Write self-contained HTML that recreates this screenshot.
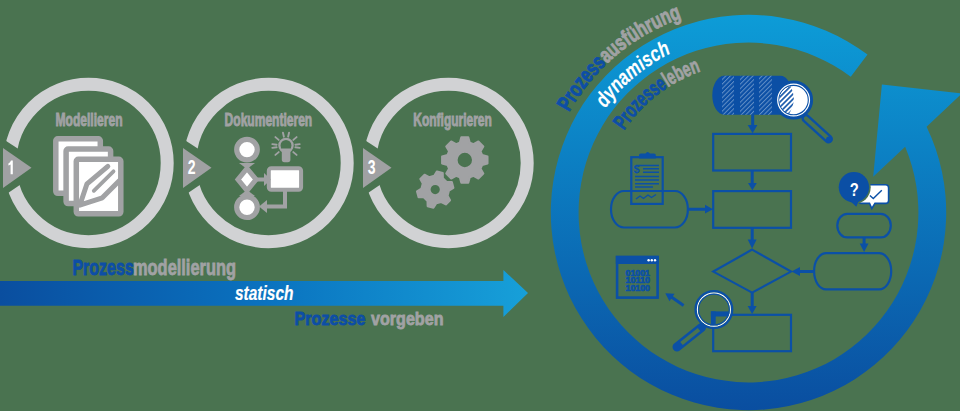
<!DOCTYPE html>
<html><head><meta charset="utf-8">
<style>
html,body{margin:0;padding:0;width:960px;height:411px;overflow:hidden;background:#4a7350;}
svg{display:block;}
text{font-family:"Liberation Sans",sans-serif;}
</style></head>
<body>
<svg width="960" height="411" viewBox="0 0 960 411">
<defs>
  <linearGradient id="band" gradientUnits="userSpaceOnUse" x1="0" y1="0" x2="528" y2="0">
    <stop offset="0" stop-color="#0a4e9f"/>
    <stop offset="0.5" stop-color="#0a72bf"/>
    <stop offset="1" stop-color="#17a0d9"/>
  </linearGradient>
  <linearGradient id="ring" gradientUnits="userSpaceOnUse" x1="0" y1="15" x2="0" y2="410">
    <stop offset="0" stop-color="#0d9cd7"/>
    <stop offset="1" stop-color="#0a4ea0"/>
  </linearGradient>
  <mask id="m1" maskUnits="userSpaceOnUse" x="0" y="0" width="960" height="411">
    <rect x="0" y="0" width="960" height="411" fill="#fff"/>
    <polygon points="-10,130.4 46.2,167.1 -10,205.2" fill="#000"/>
  </mask>
  <mask id="m2" maskUnits="userSpaceOnUse" x="0" y="0" width="960" height="411">
    <rect x="0" y="0" width="960" height="411" fill="#fff"/>
    <polygon points="170,130.4 226.2,167.1 170,205.2" fill="#000"/>
  </mask>
  <mask id="m3" maskUnits="userSpaceOnUse" x="0" y="0" width="960" height="411">
    <rect x="0" y="0" width="960" height="411" fill="#fff"/>
    <polygon points="350,130.4 406.2,167.1 350,205.2" fill="#000"/>
  </mask>
</defs>
<rect width="960" height="411" fill="#4a7350"/>

<!-- gray rings -->
<g fill="none" stroke="#d1d2d4" stroke-width="13">
  <circle cx="88.5" cy="163" r="78.7" mask="url(#m1)"/>
  <circle cx="268.5" cy="163" r="78.7" mask="url(#m2)"/>
  <circle cx="448.5" cy="163" r="78.7" mask="url(#m3)"/>
</g>
<!-- triangles -->
<g fill="#a0a1a3">
  <polygon points="3,148 31.5,167.8 3,188"/>
  <polygon points="183,148 211.5,167.8 183,188"/>
  <polygon points="363,148 391.5,167.8 363,188"/>
</g>
<path d="M12.8,174.3 V160.4 H11 Q10.4,162.6 8.4,163.4 V165.6 Q9.8,165.3 10.6,164.6 V174.3 Z" fill="#fff"/>
<g fill="#fff" font-size="19.5" font-weight="bold">
  <text x="187.8" y="174.1" textLength="7.8" lengthAdjust="spacingAndGlyphs">2</text>
  <text x="367.8" y="174.1" textLength="7.8" lengthAdjust="spacingAndGlyphs">3</text>
</g>

<!-- circle titles -->
<g fill="#a1a2a4" stroke="#a1a2a4" stroke-width="0.9" font-size="17.5" font-weight="bold">
  <text x="55.5" y="126.4" textLength="67" lengthAdjust="spacingAndGlyphs">Modellieren</text>
  <text x="224.6" y="126.4" textLength="87.6" lengthAdjust="spacingAndGlyphs">Dokumentieren</text>
  <text x="413.3" y="126.4" textLength="78.5" lengthAdjust="spacingAndGlyphs">Konfigurieren</text>
</g>

<!-- documents icon -->
<g stroke="#a1a2a4" stroke-width="5.5" fill="#fff" stroke-linejoin="round">
  <rect x="55.8" y="138.8" width="44.5" height="54.5" rx="2"/>
  <rect x="66.1" y="149.1" width="44.5" height="54.5" rx="2"/>
  <rect x="76.3" y="159.3" width="44.5" height="54.5" rx="2"/>
</g>
<g fill="none" stroke="#a1a2a4" stroke-linejoin="round" stroke-linecap="round">
  <path d="M107.8,166.3 L87,183.8 L79.8,205.2 L102.3,197.8 L119,181" stroke-width="5"/>
  <path d="M113.5,171.3 L93.8,190.8" stroke-width="3.8"/>
</g>
<!-- process icon (circle 2) -->
<g stroke="#a1a2a4" fill="#fff">
  <circle cx="247" cy="149.6" r="10.3" stroke-width="5.2"/>
  <circle cx="247" cy="207.2" r="10.3" stroke-width="5.2"/>
  <polygon points="247,168.5 256,179.5 247,190.5 238,179.5" stroke-width="5" stroke-linejoin="miter"/>
  <rect x="268.8" y="168.3" width="32.3" height="21.5" rx="2.5" stroke-width="4"/>
  <path d="M285,190 L285,206.5 L262,206.5" fill="none" stroke-width="4"/>
  <path d="M257,179.5 L268,179.5" fill="none" stroke-width="4"/>
</g>
<g fill="#a1a2a4">
  <polygon points="239,163 255,163 247,169"/>
  <polygon points="239,196 255,196 247,190"/>
  <polygon points="264,173 271,179.5 264,186"/>
  <polygon points="267,200 259,206.5 267,213"/>
</g>
<!-- bulb -->
<g stroke="#a1a2a4" fill="none" stroke-linecap="round">
  <circle cx="286" cy="145.4" r="6.6" stroke-width="2.3"/>
  <path d="M283.9,136.7 L282.9,132.6 M288.1,136.7 L289.1,132.6 M278.7,139.9 L275.4,137.1 M293.3,139.9 L296.6,137.1 M276.6,144.7 L272.3,144.1 M295.4,144.7 L299.7,144.1 M276.6,147.3 L272.3,147.9 M295.4,147.3 L299.7,147.9 M278.7,152.1 L275.4,154.9 M293.3,152.1 L296.6,154.9 " stroke-width="1.9"/>
</g>
<path d="M281.8,148.5 L290.4,148.5 L290.4,159.5 Q290.4,162.2 287.8,162.2 L284.4,162.2 Q281.8,162.2 281.8,159.5 Z" fill="#a1a2a4"/>

<!-- gears -->
<g fill="#a1a2a4" stroke="#a1a2a4" stroke-width="2" stroke-linejoin="round" fill-rule="evenodd">
  <path d="M459.80,142.71 L461.30,137.27 L468.30,137.27 L469.80,142.71 L473.49,144.24 L478.40,141.45 L483.35,146.40 L480.56,151.31 L482.09,155.00 L487.53,156.50 L487.53,163.50 L482.09,165.00 L480.56,168.69 L483.35,173.60 L478.40,178.55 L473.49,175.76 L469.80,177.29 L468.30,182.73 L461.30,182.73 L459.80,177.29 L456.11,175.76 L451.20,178.55 L446.25,173.60 L449.04,168.69 L447.51,165.00 L442.07,163.50 L442.07,156.50 L447.51,155.00 L449.04,151.31 L446.25,146.40 L451.20,141.45 L456.11,144.24 Z M473.00,160.00 A8.2,8.2 0 1 0 456.60,160.00 A8.2,8.2 0 1 0 473.00,160.00 Z"/>
  <path d="M434.23,175.83 L436.97,171.39 L442.77,172.94 L442.92,178.16 L446.64,181.88 L451.86,182.03 L453.41,187.83 L448.97,190.57 L447.61,195.64 L450.09,200.24 L445.84,204.49 L441.24,202.01 L436.17,203.37 L433.43,207.81 L427.63,206.26 L427.48,201.04 L423.76,197.32 L418.54,197.17 L416.99,191.37 L421.43,188.63 L422.79,183.56 L420.31,178.96 L424.56,174.71 L429.16,177.19 Z M440.80,189.60 A5.6,5.6 0 1 0 429.60,189.60 A5.6,5.6 0 1 0 440.80,189.60 Z"/>
</g>

<!-- left band arrow -->
<polygon points="0,281 503.4,281 503.4,270 528,293 503.4,317 503.4,305.7 0,305.7" fill="url(#band)"/>
<text x="235" y="299.6" font-size="20.5" font-style="italic" font-weight="bold" fill="#fff" stroke="#fff" stroke-width="0.2" textLength="58.5" lengthAdjust="spacingAndGlyphs">statisch</text>
<g font-weight="bold" stroke-width="0.8">
  <text x="72.4" y="274.6" font-size="22.5" textLength="61.4" lengthAdjust="spacingAndGlyphs" fill="#0d4ea6" stroke="#0d4ea6">Prozess</text>
  <text x="133" y="274.6" font-size="22.5" textLength="103" lengthAdjust="spacingAndGlyphs" fill="#a1a2a4" stroke="#a1a2a4">modellierung</text>
  <text x="294.5" y="324.7" font-size="19" textLength="71" lengthAdjust="spacingAndGlyphs" fill="#0d4ea6" stroke="#0d4ea6">Prozesse</text>
  <text x="371" y="324.7" font-size="19" textLength="72.5" lengthAdjust="spacingAndGlyphs" fill="#a1a2a4" stroke="#a1a2a4">vorgeben</text>
</g>

<!-- flowchart -->
<defs>
  <pattern id="hatch" patternUnits="userSpaceOnUse" width="3.2" height="3.2" patternTransform="rotate(45)">
    <rect width="3.2" height="3.2" fill="#0b4fa5"/>
    <rect x="0" y="0" width="1" height="3.2" fill="#cfe0f2"/>
  </pattern>
  <clipPath id="pillclip"><rect x="712.3" y="75.8" width="80" height="38.9" rx="12" ry="19.4"/></clipPath>
  <clipPath id="lensclip"><circle cx="793.6" cy="100.1" r="14.2"/></clipPath>
  <pattern id="hatch2" patternUnits="userSpaceOnUse" width="3.6" height="3.6" patternTransform="rotate(45)">
    <rect width="3.6" height="3.6" fill="#fff"/>
    <rect x="0" y="0" width="1.6" height="3.6" fill="#0b4fa5"/>
  </pattern>
</defs>
<g fill="none" stroke="#0b50a6" stroke-width="2.2">
  <rect x="713.2" y="133.9" width="77.8" height="36.6"/>
  <rect x="713.2" y="191.1" width="77.8" height="36.7"/>
  <rect x="713.2" y="314.8" width="77.8" height="36.4"/>
  <polygon points="752.1,249.6 791,271.6 752.1,292.6 713.3,271.6"/>
  <rect x="611" y="191" width="76.9" height="36.5" rx="13" ry="18.2"/>
  <rect x="837.3" y="213.8" width="53.5" height="23.6" rx="10" ry="11.8"/>
  <rect x="814.1" y="253.1" width="77.1" height="36.2" rx="12" ry="18"/>
</g>
<g stroke="#0b50a6" stroke-width="3" fill="none">
  <path d="M752.7,114.5 V127 M752.2,170.5 V184 M752.2,227.8 V241 M752.2,292.6 V307 M689,209.2 H706 M813,271.4 H798 M864.1,237.6 V245"/>
</g>
<g fill="#0b50a6">
  <polygon points="747.7,125.1 757.4,125.1 752.6,133.3"/>
  <polygon points="748,183 756.8,183 752.4,190.2"/>
  <polygon points="747.7,239.5 756.6,239.5 752.1,248.5"/>
  <polygon points="747.7,306 756.6,306 752.1,314"/>
  <polygon points="705,204.8 705,213.6 713,209.2"/>
  <polygon points="800,267 800,276 791.5,271.5"/>
  <polygon points="859.7,243.6 868.5,243.6 864.1,252"/>
</g>
<!-- hatched pill -->
<rect x="712.3" y="75.8" width="80" height="38.9" rx="12" ry="19.4" fill="#0b4fa5"/>
<g clip-path="url(#pillclip)" fill="url(#hatch)" opacity="0.45">
  <rect x="722" y="75" width="12" height="40"/>
  <rect x="740" y="75" width="14" height="40"/>
  <rect x="759" y="75" width="13" height="40"/>
</g>
<!-- magnifier 1 -->
<g stroke="#0b50a6" fill="none">
  <path d="M806,118.5 L828.5,139" stroke-width="9" stroke-linecap="round"/>
  <path d="M806,118.5 L828.5,139" stroke-width="4.2" stroke="#4a7350" stroke-linecap="round"/>
</g>
<circle cx="829" cy="139.5" r="3" fill="#0b50a6"/>
<circle cx="793.6" cy="100.1" r="18" fill="#fff" stroke="#0b50a6" stroke-width="3"/>
<circle cx="793.6" cy="100.1" r="14.7" fill="none" stroke="#0b50a6" stroke-width="1.1"/>
<g clip-path="url(#lensclip)">
  <path d="M770,80 L789.5,84 Q799,100 787.5,116 L770,118 Z" fill="url(#hatch2)"/>
</g>
<!-- clipboard -->
<g fill="none" stroke="#0b50a6">
  <rect x="631.3" y="157.2" width="31.4" height="46.7" stroke-width="2.2"/>
  <path d="M636,165.5 H659 M643,168.8 H659 M643,172.3 H659 M635,176.5 H659 M635,180 H659 M635,183.8 H659 M635,187 H653" stroke-width="1.6"/>
  <path d="M636,199 L640,196 L643.5,198.5 L648,195 L651.5,197.5 L656,194.5" stroke-width="1.4"/>
</g>
<path d="M639,158.6 V155 Q639,153.5 641,153.5 H645.5 Q647.5,150.5 650,153.5 H654 Q655.8,153.5 655.8,155 V158.6 Z" fill="#0b50a6"/>
<text x="633.5" y="173" font-size="11" font-weight="bold" fill="#0b50a6">$</text>
<!-- window icon -->
<rect x="617.1" y="257.1" width="40.5" height="40.5" fill="none" stroke="#0b50a6" stroke-width="2.6"/>
<rect x="615.8" y="255.8" width="43.1" height="8.2" fill="#0b50a6"/>
<g fill="#fff"><circle cx="648.6" cy="260.3" r="1.2"/><circle cx="651.8" cy="260.3" r="1.2"/><circle cx="655" cy="260.3" r="1.2"/></g>
<g font-size="9.5" font-weight="bold" fill="#0b50a6" stroke="#0b50a6" stroke-width="0.7" font-family="Liberation Sans, sans-serif">
  <text x="625.5" y="275.6" textLength="24.5" lengthAdjust="spacingAndGlyphs">01001</text>
  <text x="625.5" y="283.4" textLength="24.5" lengthAdjust="spacingAndGlyphs">10110</text>
  <text x="625.5" y="291.4" textLength="24.5" lengthAdjust="spacingAndGlyphs">10100</text>
</g>
<!-- small arrow -->
<path d="M683.6,305.4 L670,296" stroke="#0b50a6" stroke-width="3" fill="none"/>
<polygon points="665.3,293.2 674.5,293.8 669.5,301.2" fill="#0b50a6"/>
<!-- magnifier 2 -->
<defs><clipPath id="lens2"><circle cx="713.9" cy="309.6" r="15"/></clipPath></defs>
<g clip-path="url(#lens2)" fill="#0b50a6">
  <rect x="710.9" y="311.4" width="30" height="5.1"/>
  <rect x="710.9" y="311.4" width="4.8" height="30"/>
</g>
<circle cx="713.9" cy="309.6" r="18.3" fill="none" stroke="#0b50a6" stroke-width="2.4"/>
<circle cx="713.9" cy="309.6" r="16.5" fill="none" stroke="#fff" stroke-width="1.1"/>
<circle cx="713.9" cy="309.6" r="15.4" fill="none" stroke="#0b50a6" stroke-width="1.2"/>
<g stroke="#0b50a6" fill="none">
  <path d="M701.5,327.5 L677,347" stroke-width="9" stroke-linecap="round"/>
  <path d="M699,329.5 L681.5,343.5" stroke-width="4" stroke="#4a7350" stroke-linecap="butt"/>
</g>
<!-- question bubble -->
<path d="M861.3,184.7 H885.6 Q888.6,184.7 888.6,187.7 V200.4 Q888.6,203.4 885.6,203.4 H875 L871.8,208.5 L869.5,203.4 H861.3 Q858.3,203.4 858.3,200.4 V187.7 Q858.3,184.7 861.3,184.7 Z" fill="#fff" stroke="#0b50a6" stroke-width="1.6"/>
<path d="M869.9,195.6 L873.3,198.6 L881.8,190.2" fill="none" stroke="#0b50a6" stroke-width="1.4"/>
<circle cx="853.9" cy="187.3" r="16.8" fill="#4a7350"/>
<circle cx="853.9" cy="187.3" r="15.2" fill="#0b4fa5"/>
<polygon points="847,198 860,198 856.3,206.8" fill="#0b4fa5"/>
<text x="854.3" y="196" font-size="19" font-weight="bold" text-anchor="middle" fill="#fff" textLength="9" lengthAdjust="spacingAndGlyphs">?</text>

<!-- big ring arrow -->
<path d="M905.15,146.73 L873.2,176.7 L881.9,84.6 L962,93.4 L926.58,126.63 A197.7,197.7 0 1 1 867.48,54.61 L850.75,76.81 A169.9,169.9 0 1 0 905.15,146.73 Z" fill="url(#ring)"/>


<!-- ring texts -->
<defs>
  <path id="arcO" d="M562.3,125.7 A205.5,205.5 0 0 1 730.6,7.8"/>
  <path id="arcM" d="M595.2,124.0 A177,177 0 0 1 688.0,46.2"/>
  <path id="arcI" d="M613.5,149.5 A149,149 0 0 1 735.5,64.1"/>
</defs>
<text font-size="22" font-weight="bold" stroke-width="0.9"><textPath href="#arcO" startOffset="15" textLength="150" lengthAdjust="spacingAndGlyphs"><tspan fill="#0d4ea6" stroke="#0d4ea6">Prozess</tspan><tspan fill="#a1a2a4" stroke="#a1a2a4">ausführung</tspan></textPath></text>
<text font-size="21.5" font-style="italic" font-weight="bold" fill="#fff" stroke="#fff" stroke-width="0.1"><textPath href="#arcM" startOffset="18.5" textLength="87" lengthAdjust="spacingAndGlyphs">dynamisch</textPath></text>
<text font-size="21.5" font-weight="bold" stroke-width="0.8"><textPath href="#arcI" startOffset="21.7" textLength="98.7" lengthAdjust="spacingAndGlyphs"><tspan fill="#0d4ea6" stroke="#0d4ea6">Prozesse</tspan><tspan fill="#a1a2a4" stroke="#a1a2a4">leben</tspan></textPath></text>

</svg>
</body></html>
